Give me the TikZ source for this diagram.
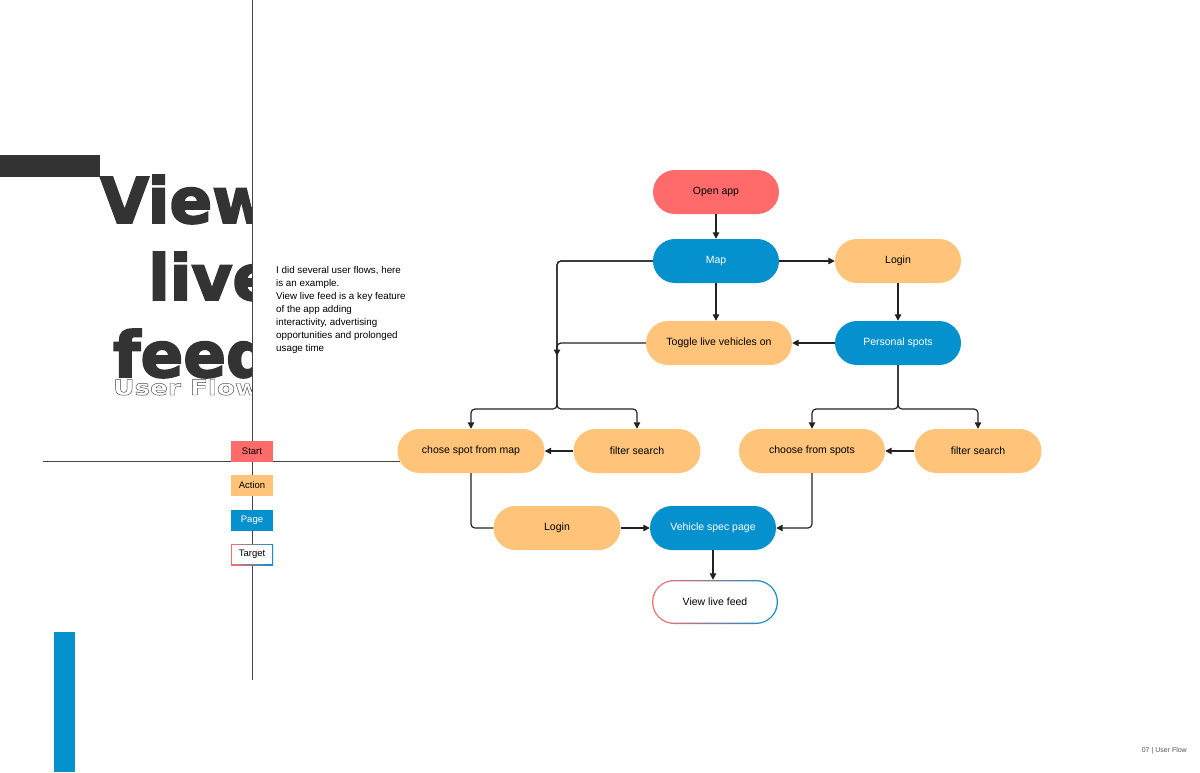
\documentclass[tikz,border=0pt]{standalone}
\usepackage{fontspec}
\setmainfont{Liberation Sans}
\newfontfamily\titlefont{DejaVu Sans}[BoldFeatures={FakeBold=3}]
\newfontfamily\outlinefont{DejaVu Sans}[FakeStretch=1.25]
\usetikzlibrary{arrows.meta,positioning}
\definecolor{flowred}{HTML}{FF6B6B}
\definecolor{floworange}{HTML}{FFC47A}
\definecolor{flowblue}{HTML}{0591CD}
\definecolor{titlegray}{HTML}{333333}
\definecolor{linegray}{HTML}{222222}
\definecolor{rulegray}{HTML}{444444}
\definecolor{footgray}{HTML}{555555}

\begin{document}
\begin{tikzpicture}[x=1pt,y=-1pt,>={Triangle[length=6.5pt,width=6.5pt]},
	gradborder/.style={path picture={
		\shade[left color=flowred,middle color=floworange,right color=flowblue]
			(path picture bounding box.south west) rectangle (path picture bounding box.north east);
		\fill[white,rounded corners=#1]
			([shift={(1.3pt,1.3pt)}]path picture bounding box.south west)
			rectangle ([shift={(-1.3pt,-1.3pt)}]path picture bounding box.north east);}},
	pill/.style={rectangle,rounded corners=22pt,minimum width=126pt,minimum height=44pt,
		inner sep=0pt,font=\fontsize{10.5}{12}\selectfont},
	keybox/.style={rectangle,minimum width=42pt,minimum height=21pt,inner sep=0pt,
		font=\fontsize{9.5}{11}\selectfont},
	startfill/.style={fill=flowred,text=black},
	actionfill/.style={fill=floworange,text=black},
	pagefill/.style={fill=flowblue,text=white},
	link/.style={line width=1.2pt,draw=linegray,rounded corners=4pt},
	rule/.style={line width=0.8pt,draw=rulegray},
	bigword/.style={anchor=base west,inner sep=0pt,text=titlegray,
		font=\titlefont\bfseries\fontsize{63}{63}\selectfont}]
\useasboundingbox (0,0) rectangle (1200,772);

% side bars
\fill[titlegray] (0,155) rectangle (100,177);
\fill[flowblue] (54,632) rectangle (75,772);

% title, cut at the rule
\begin{scope}
\clip (0,0) rectangle (252,772);
\node[bigword] (titleView) at (100,223) {View};
\node[bigword] (titleLive) at (148,300) {live};
\node[bigword] (titleFeed) at (113,377) {feed};
\node[anchor=base west,inner sep=0pt,text=rulegray,
	font=\outlinefont\bfseries\fontsize{21}{21}\selectfont] (subtitle) at (113,395)
	{\special{pdf:literal direct 0.45 w 1 Tr}User Flow\special{pdf:literal direct 0 Tr}};
\end{scope}

\node[anchor=north west,inner sep=0pt,align=left,font=\fontsize{9.8}{13}\selectfont] (intro) at (276,266)
	{I did several user flows, here\\is an example.\\View live feed is a key feature\\of the app adding\\interactivity, advertising\\opportunities and prolonged\\usage time};

% flow
\node[pill,startfill] (openApp) at (716,192) {Open app};
\node[pill,pagefill] (map) at (716,261) {Map};
\node[pill,actionfill] (loginTop) at (898,261) {Login};
\node[pill,actionfill,minimum width=146pt] (toggle) at (719,343) {Toggle live vehicles on};
\node[pill,pagefill] (personal) at (898,343) {Personal spots};
\node[pill,actionfill,minimum width=147pt] (chose) at (471,451) {chose spot from map};
\node[pill,actionfill,minimum width=127pt] (filterL) at (637,451) {filter search};
\node[pill,actionfill,minimum width=146pt] (choose) at (812,451) {choose from spots};
\node[pill,actionfill,minimum width=127pt] (filterR) at (978,451) {filter search};
\node[pill,actionfill,minimum width=127pt] (loginBottom) at (557,528) {Login};
\node[pill,pagefill] (spec) at (713,528) {Vehicle spec page};
\node[pill,gradborder=20.7pt] (liveFeed) at (715,602) {View live feed};

% rules
\coordinate (ruleTop) at (252,0);
\coordinate (ruleBottom) at (252,680);
\coordinate (ruleLeft) at (43,461);
\draw[rule] (ruleTop) -- (ruleBottom);
\draw[rule] (ruleLeft) -- ([xshift=2.5pt]chose.west |- ruleLeft);

% key
\foreach \lbl/\ypos/\sty in {Start/451.5/startfill,Action/485.5/actionfill,Page/520.5/pagefill}
	\node[keybox,\sty] (key\lbl) at (252,\ypos) {\lbl};
\node[keybox,gradborder=0pt] (keyTarget) at (252,554.5) {Target};

\coordinate (leftSplit) at (557,409);
\coordinate (leftMerge) at (557,356);
\coordinate (rightSplit) at (898,409);

\draw[link,->] (openApp) -- (map);
\draw[link,->] (map) -- (loginTop);
\draw[link,->] (map.south) -- (map.south |- toggle.north);
\draw[link,->] (loginTop) -- (personal);
\draw[link,->] (personal) -- (toggle);
\draw[link,->] (map.west) -| (leftSplit) -| (chose.north);
\draw[link,->] (map.west) -| (leftSplit) -| (filterL.north);
\draw[link,->] (toggle.west) -| (leftMerge);
\draw[link,->] (personal.south) -- (rightSplit) -| (choose.north);
\draw[link,->] (personal.south) -- (rightSplit) -| (filterR.north);
\draw[link,->] (filterL) -- (chose);
\draw[link,->] (filterR) -- (choose);
\draw[link] (chose.south) |- (loginBottom.west);
\draw[link,->] (loginBottom) -- (spec);
\draw[link,->] (choose.south) |- (spec.east);
\draw[link,->] (spec.south) -- (spec.south |- liveFeed.north);

\node[anchor=base east,inner sep=0pt,text=footgray,font=\fontsize{7}{8}\selectfont] (footer) at (1187,752) {07 | User Flow};
\end{tikzpicture}
\end{document}
